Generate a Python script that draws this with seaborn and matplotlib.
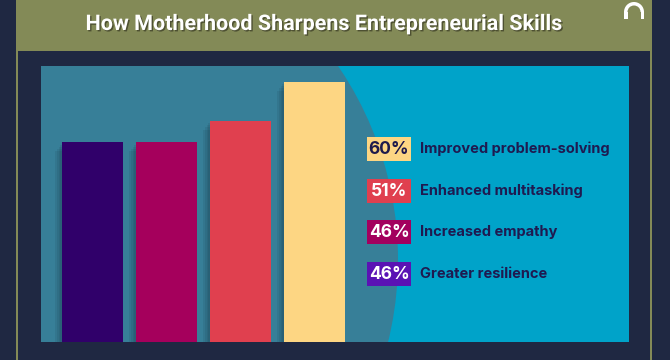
import matplotlib
matplotlib.use("Agg")
import matplotlib.pyplot as plt
import matplotlib.patches as mp
import matplotlib.patheffects as pe
import seaborn as sns
import pandas as pd

# ---- data ----
categories = ["Greater resilience", "Increased empathy", "Enhanced multitasking", "Improved problem-solving"]
values = [46, 46, 51, 60]
bar_colors = ["#30006a", "#a5005c", "#e0404f", "#fdd683"]
box_colors = ["#5a12b4", "#a3005e", "#e0404f", "#fdd683"]
pct_text_colors = ["white", "white", "white", "#1e1a4c"]
title = "How Motherhood Sharpens Entrepreneurial Skills"

sns.set_theme(style="white")

W, H = 670, 360
fig = plt.figure(figsize=(6.7, 3.6), dpi=100)

# background layer in pixel coordinates
bg = fig.add_axes([0, 0, 1, 1])
bg.set_xlim(0, W)
bg.set_ylim(H, 0)
bg.axis("off")
bg.add_patch(mp.Rectangle((0, 0), W, H, color="#1f2842", lw=0))
olive = "#838a57"
bg.add_patch(mp.Rectangle((17, 0), 635, 51, color=olive, lw=0))
bg.add_patch(mp.Rectangle((16, 0), 2.2, H, color=olive, lw=0))
bg.add_patch(mp.Rectangle((650, 0), 2.2, H, color=olive, lw=0))
panel = mp.Rectangle((41, 66), 588, 276, color="#00a3c9", lw=0)
bg.add_patch(panel)
circ = mp.Circle((54, 260), 344, color="#377f98", lw=0)
bg.add_patch(circ)
circ.set_clip_path(panel)

# logo
bg.add_patch(mp.Wedge((634, 12), 10, 180, 360, width=3.5, color="white", lw=0))
bg.add_patch(mp.Rectangle((624, 12), 4.2, 7, color="white", lw=0))
bg.add_patch(mp.Rectangle((640.5, 12), 3.5, 7, color="white", lw=0))

# title
bg.text(324, 24, title, ha="center", va="center", color="white", fontsize=15.5,
        fontweight="bold", family="Roboto",
        path_effects=[pe.SimplePatchShadow(offset=(1, -1), shadow_rgbFace="#2a2a1a", alpha=0.6), pe.Normal()])

# chart axes
ax = fig.add_axes([41 / W, (H - 342) / H, 588 / W, 276 / H])
ax.patch.set_alpha(0)
df = pd.DataFrame({"cat": categories, "val": values})
sns.barplot(data=df, x="cat", y="val", hue="cat", order=categories, hue_order=categories,
            palette=bar_colors, width=0.824, saturation=1, legend=False, ax=ax, linewidth=0)
shadow = [pe.SimplePatchShadow(offset=(-k * 1.2, -k * 1.6), shadow_rgbFace="#14323f", alpha=0.11)
          for k in (4, 3, 2, 1)]
for p in ax.patches:
    p.set_path_effects(shadow + [pe.Normal()])
    p.set_clip_path(panel)
ax.set_xlim(-0.696, 7.25)
ax.set_ylim(0, 63.6)
ax.axis("off")

# legend
ys = [274, 232, 190.5, 149]
for i in range(len(categories)):
    y = ys[i]
    bg.add_patch(mp.Rectangle((367, y - 12), 44, 24, color=box_colors[i], lw=0, zorder=5))
    bg.text(389, y + 0.5, f"{values[i]}%", ha="center", va="center", color=pct_text_colors[i],
            fontsize=12.5, fontweight="bold", family="Inter", zorder=6)
    bg.text(420, y, categories[i], ha="left", va="center", color="#1f1a50",
            fontsize=10.5, fontweight="bold", family="Inter", zorder=6)

fig.savefig("out.png", dpi=100)
